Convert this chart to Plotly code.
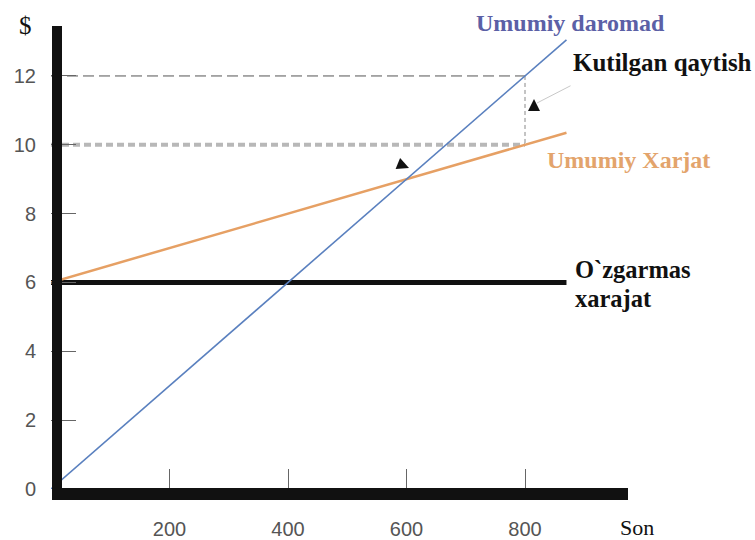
import plotly.graph_objects as go

# ---- data ----
quantity = [0, 870]
total_revenue = [0, 13.05]
total_cost = [6, 10.35]
fixed_cost = [6, 6]
target_q = [0, 800]
revenue_at_target = [12, 12]
cost_at_target = [10, 10]
x_ticks = [200, 400, 600, 800]
y_ticks = [0, 2, 4, 6, 8, 10, 12]

# ---- geometry helpers (pixel -> paper) ----
W, H = 755, 540
ML, MR, MT, MB = 51, 0, 20, 51
PW, PH = W - ML - MR, H - MT - MB


def px(x):
    return (x - ML) / PW


def py(y):
    return (H - MB - y) / PH


fig = go.Figure()

fig.add_trace(go.Scatter(x=target_q, y=revenue_at_target, mode="lines",
                         line=dict(color="#555555", width=1, dash="11px,5px"),
                         hoverinfo="skip"))
fig.add_trace(go.Scatter(x=target_q, y=cost_at_target, mode="lines",
                         line=dict(color="#b8b8b8", width=4, dash="7px,4px"),
                         hoverinfo="skip"))
fig.add_trace(go.Scatter(x=[target_q[1], target_q[1]], y=[revenue_at_target[1], cost_at_target[1]],
                         mode="lines", line=dict(color="#888888", width=1, dash="4px,3px"),
                         hoverinfo="skip"))
fig.add_trace(go.Scatter(x=quantity, y=fixed_cost, mode="lines",
                         line=dict(color="#111111", width=5), hoverinfo="skip"))
fig.add_trace(go.Scatter(x=quantity, y=total_cost, mode="lines",
                         line=dict(color="#e6a064", width=2.5), hoverinfo="skip"))
fig.add_trace(go.Scatter(x=quantity, y=total_revenue, mode="lines",
                         line=dict(color="#5a80bf", width=1.6), hoverinfo="skip"))

# thick axis bars
fig.add_shape(type="rect", xref="paper", yref="paper",
              x0=px(52), x1=px(62), y0=py(500), y1=py(26),
              fillcolor="#111111", line=dict(width=0), layer="above")
fig.add_shape(type="rect", xref="paper", yref="paper",
              x0=px(52), x1=px(628), y0=py(500), y1=py(488),
              fillcolor="#111111", line=dict(width=0), layer="above")

serif_b = "Liberation Serif, Times New Roman, serif"

annos = [
    dict(text="$", x=px(26), y=py(26), font=dict(family=serif_b, size=25, color="#111111")),
    dict(text="Son", x=px(637), y=py(527), font=dict(family=serif_b, size=22, color="#111111")),
    dict(text="<b>Umumiy daromad</b>", x=px(570), y=py(23),
         font=dict(family=serif_b, size=24, color="#5b60a6")),
]
for a in annos:
    fig.add_annotation(xref="paper", yref="paper", showarrow=False, xanchor="center",
                       yanchor="middle", **a)

left_annos = [
    dict(text="<b>Kutilgan qaytish</b>", x=px(571), y=py(62), color="#111111", size=25),
    dict(text="<b>Umumiy Xarjat</b>", x=px(545), y=py(160), color="#e3a46c", size=24),
    dict(text="<b>O`zgarmas</b>", x=px(573), y=py(269), color="#111111", size=24.5),
    dict(text="<b>xarajat</b>", x=px(573), y=py(298), color="#111111", size=24.5),
]
for a in left_annos:
    fig.add_annotation(xref="paper", yref="paper", showarrow=False, xanchor="left",
                       yanchor="middle", text=a["text"], x=a["x"], y=a["y"],
                       font=dict(family=serif_b, size=a["size"], color=a["color"]))

# leader line + arrowheads
fig.add_annotation(xref="paper", yref="paper", x=px(537), y=py(103), ax=35, ay=-18,
                   text="", showarrow=True, arrowhead=0, arrowwidth=1, arrowcolor="#c8c8c8")
fig.add_annotation(xref="paper", yref="paper", x=px(534), y=py(99), ax=0, ay=9,
                   text="", showarrow=True, arrowhead=2, arrowsize=1.6, arrowwidth=1.5,
                   arrowcolor="#111111", standoff=0)
fig.add_annotation(xref="paper", yref="paper", x=px(409), y=py(168), ax=-10, ay=-4,
                   text="", showarrow=True, arrowhead=2, arrowsize=1.6, arrowwidth=1.5,
                   arrowcolor="#111111", standoff=0)

tickfont = dict(family="Liberation Sans Narrow, Arial Narrow, Liberation Sans, sans-serif",
                size=20, color="#555555")

fig.update_layout(
    width=W, height=H,
    margin=dict(l=ML, r=MR, t=MT, b=MB, pad=0),
    paper_bgcolor="white", plot_bgcolor="white",
    showlegend=False,
    xaxis=dict(range=[0, PW / 0.5925], showgrid=False, zeroline=False, showline=False,
               tickmode="array", tickvals=x_ticks, ticktext=[str(v) for v in x_ticks],
               ticks="inside", ticklen=20, tickwidth=1, tickcolor="#666666",
               tickfont=tickfont, ticklabelstandoff=26),
    yaxis=dict(range=[0, PH / 34.42], showgrid=False, zeroline=False, showline=False,
               tickmode="array", tickvals=y_ticks, ticktext=[str(v) for v in y_ticks],
               ticks="inside", ticklen=25, tickwidth=1, tickcolor="#666666",
               tickfont=tickfont, ticklabelstandoff=14),
)

fig.write_html("out.html", config={"displayModeBar": False},
               post_script="document.body.style.margin='0';document.body.style.overflow='hidden';")
